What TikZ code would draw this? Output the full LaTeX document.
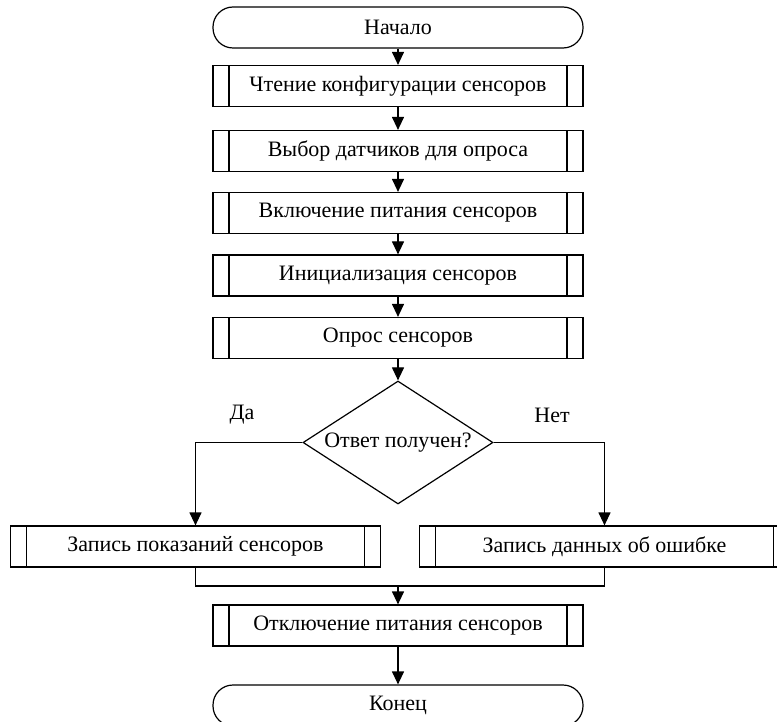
\documentclass[tikz,border=0pt]{standalone}
\usepackage{fontspec}
\setmainfont{Liberation Serif}
\usetikzlibrary{shapes.geometric,arrows.meta}

\tikzset{
    term/.style={draw, line width=1.2pt, rounded corners=20pt, minimum width=370pt, minimum height=41pt, inner sep=0pt},
    proc/.style={draw, line width=1.2pt, minimum width=370pt, minimum height=41pt, inner sep=0pt,
        path picture={\draw[line width=1.2pt]
            ([xshift=16pt]path picture bounding box.north west) -- ([xshift=16pt]path picture bounding box.south west)
            ([xshift=-16pt]path picture bounding box.north east) -- ([xshift=-16pt]path picture bounding box.south east);}},
    cond/.style={draw, diamond, aspect=1.545, line width=1.2pt, minimum width=190pt, minimum height=123pt, inner sep=0pt},
    arr/.style={-{Triangle[length=13pt,width=12pt]}, line width=1.2pt},
    conn/.style={line width=1.2pt}
}

\begin{document}
\begin{tikzpicture}[x=1pt, y=-1pt, font=\fontsize{22}{26}\selectfont]
    \useasboundingbox (0,0) rectangle (777,722);

    % Main column
    \node[term] (start) at (398,27.5) {Начало};
    \node[proc] (read) at (398,86) {Чтение конфигурации сенсоров};
    \node[proc] (select) at (398,151) {Выбор датчиков для опроса};
    \node[proc] (power) at (398,213) {Включение питания сенсоров};
    \node[proc] (init) at (398,275.5) {Инициализация сенсоров};
    \node[proc] (poll) at (398,338) {Опрос сенсоров};
    \node[cond] (resp) at (398,442.5) {Ответ получен?};

    \draw[arr] (start) -- (read);
    \draw[arr] (read) -- (select);
    \draw[arr] (select) -- (power);
    \draw[arr] (power) -- (init);
    \draw[arr] (init) -- (poll);
    \draw[arr] (poll) -- (resp);

    % Branches
    \node (yes) at (242,415) {Да};
    \node (no) at (552,415) {Нет};
    \node[proc] (save) at (195.5,546.5) {Запись показаний сенсоров};
    \node[proc] (err) at (604.5,546.5) {Запись данных об ошибке};

    \draw[arr] (resp.west) -| (save);
    \draw[arr] (resp.east) -| (err);

    % Merge and end
    \coordinate (join) at (398,586);
    \node[proc] (off) at (398,625.5) {Отключение питания сенсоров};
    \node[term] (stop) at (398,705.5) {Конец};

    \draw[conn] (save.south) |- (join) -| (err.south);
    \draw[arr] (join) -- (off);
    \draw[arr] (off) -- (stop);
\end{tikzpicture}
\end{document}
